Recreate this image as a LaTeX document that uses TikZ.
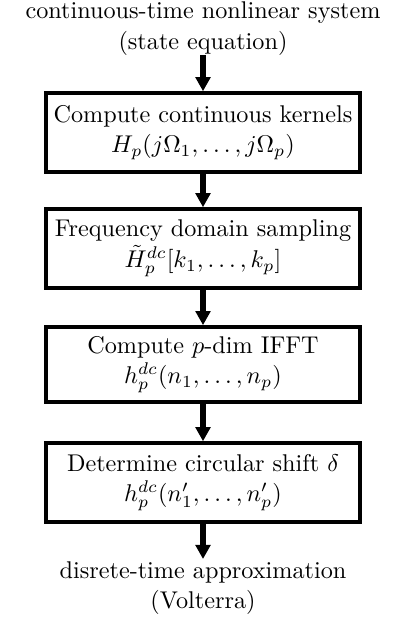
\documentclass[tikz,border=0pt]{standalone}
\usetikzlibrary{arrows.meta}
\begin{document}
\begin{tikzpicture}[x=0.4131pt,y=-0.4131pt,
  every node/.style={font={\fontsize{10pt}{12.7pt}\selectfont}},
  stepbox/.style={draw,line width=1.5pt,minimum width=129.7pt,align=center,inner sep=0pt},
  plaintext/.style={align=center,inner sep=0pt},
  flow/.style={line width=2.5pt,-{Triangle[width=6pt,length=5.8pt]}}]
\useasboundingbox (0,0) rectangle (395,625);
\node[plaintext] (top) at (203,29) {continuous-time nonlinear system\\(state equation)};
\node[stepbox,minimum height=32.6pt] (b1) at (203,132.5) {Compute continuous kernels\\$H_p(j\Omega_1,\ldots,j\Omega_p)$};
\node[stepbox,minimum height=32.6pt] (b2) at (203,248.5) {Frequency domain sampling\\$\tilde{H}_p^{dc}[k_1,\ldots,k_p]$};
\node[stepbox,minimum height=31pt] (b3) at (203,364.5) {Compute $p$-dim IFFT\\$h_p^{dc}(n_1,\ldots,n_p)$};
\node[stepbox,minimum height=32.6pt] (b4) at (203,482.5) {Determine circular shift $\delta$\\$h_p^{dc}(n'_1,\ldots,n'_p)$};
\node[plaintext] (bot) at (203,588) {disrete-time approximation\\(Volterra)};
\coordinate (s0) at (203,55);
\draw[flow] (s0) -- (b1.north);
\draw[flow] (b1.south) -- (b2.north);
\draw[flow] (b2.south) -- (b3.north);
\draw[flow] (b3.south) -- (b4.north);
\coordinate (e4) at (203,559);
\draw[flow] (b4.south) -- (e4);
\end{tikzpicture}
\end{document}
